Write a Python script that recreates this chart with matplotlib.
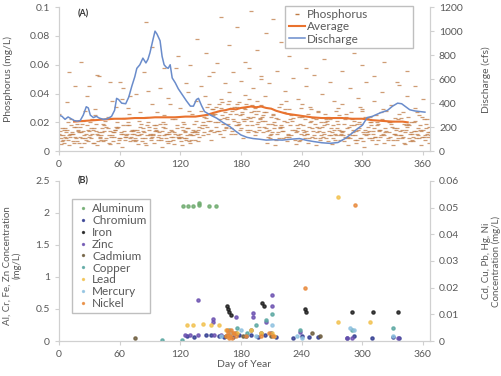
import numpy as np
import matplotlib.pyplot as plt

plt.rcParams['font.family'] = ['Lato', 'DejaVu Sans']
plt.rcParams['font.size'] = 7.5

# ---- panel A: phosphorus samples (ug/L), one list per year, every 4 days
p_days_a = np.arange(0, 368, 4)
p_days_b = np.arange(2, 368, 4)
p_days_c = np.arange(1, 368, 4)
p_days_d = np.arange(3, 368, 4)

p_yr1 = [12, 8, 15, 22, 10, 6, 14, 18, 9, 25, 13, 7, 16, 11, 31, 9, 14, 20, 12, 8, 17, 13, 42, 10, 15, 19, 11, 6, 14, 24, 12, 9, 16, 13, 21,
         28, 18, 33, 25, 14, 30, 27, 35, 22, 31, 16, 29, 36, 24, 19, 32,
         21, 15, 26, 12, 18, 29, 10, 23, 16, 33, 14, 20, 11, 27, 17, 9, 22, 15, 19,
         13, 24, 9, 18, 15, 28, 11, 20, 16, 8, 22, 14, 19, 12, 26, 10, 17, 13, 21, 9, 15, 12]
p_yr2 = [9, 16, 11, 7, 19, 13, 28, 10, 15, 12, 8, 21, 14, 10, 17, 36, 11, 9, 15, 13, 7, 24, 12, 18, 10, 14, 9, 33, 13, 11, 17, 8, 12, 19, 15,
         20, 31, 15, 26, 33, 19, 24, 12, 29, 34, 22, 18, 27, 30, 15, 25,
         14, 24, 18, 31, 9, 20, 25, 13, 19, 11, 26, 16, 22, 8, 18, 24, 13, 28, 11,
         19, 10, 22, 14, 31, 12, 17, 9, 25, 15, 11, 20, 8, 16, 23, 13, 18, 10, 27, 14, 11, 17]
p_yr3 = [14, 6, 20, 12, 9, 17, 11, 7, 22, 14, 10, 18, 6, 13, 20, 12, 8, 26, 14, 11, 19, 9, 15, 12, 27, 8, 16, 13, 10, 18, 7, 14, 28, 11, 13,
         16, 25, 21, 13, 28, 34, 17, 26, 31, 20, 27, 33, 23, 14, 28, 21,
         27, 11, 16, 22, 14, 35, 18, 8, 24, 15, 12, 29, 19, 14, 10, 21, 16, 12, 25,
         11, 16, 27, 8, 20, 13, 23, 18, 10, 14, 29, 9, 21, 15, 11, 19, 24, 8, 14, 18, 22, 10]
p_yr4 = [7, 13, 10, 17, 15, 9, 12, 20, 6, 11, 16, 9, 23, 15, 8, 12, 18, 10, 7, 21, 14, 11, 9, 16, 13, 20, 12, 10, 22, 9, 15, 11, 8, 14, 10,
         24, 12, 29, 31, 22, 15, 33, 28, 18, 25, 30, 13, 32, 26, 23, 17,
         10, 19, 23, 16, 27, 12, 21, 14, 30, 9, 17, 23, 13, 20, 26, 11, 18, 21, 14,
         22, 12, 15, 19, 9, 24, 14, 12, 20, 27, 13, 10, 16, 22, 9, 15, 12, 20, 11, 24, 16, 13]
p_yr5 = [26, 11, 34, 18, 45, 13, 21, 38, 16, 29, 52, 19, 24, 35, 17, 48, 23, 30, 15, 40, 27, 55, 20, 33, 18, 44, 25, 37, 22, 58, 30, 19, 41, 26, 35,
         45, 38, 52, 29, 61, 36, 47, 41, 55, 33, 49, 39, 58, 44, 35, 50,
         38, 47, 25, 56, 33, 42, 29, 51, 36, 24, 45, 31, 53, 28, 40, 22, 48, 35, 30,
         33, 26, 44, 21, 37, 29, 48, 24, 35, 19, 41, 28, 32, 23, 46, 27, 38, 20, 30, 25, 36, 22]
p_yr6 = [5, 10, 4, 12, 7, 3, 9, 14, 6, 4, 11, 8, 5, 13, 6, 3, 10, 7, 12, 5, 9, 4, 11, 6, 8, 3, 12, 7, 5, 10, 4, 9, 6, 13, 7,
         11, 17, 8, 20, 14, 10, 22, 16, 12, 19, 9, 15, 21, 11, 17, 13,
         6, 12, 4, 9, 14, 7, 11, 5, 8, 13, 6, 10, 4, 9, 12, 7, 5, 11, 8,
         7, 4, 11, 6, 9, 3, 12, 8, 5, 10, 6, 13, 4, 8, 11, 5, 9, 7, 12, 4, 8, 6]
p_yr7 = [11, 15, 8, 13, 17, 10, 6, 15, 12, 19, 9, 14, 11, 7, 16, 13, 10, 18, 8, 15, 12, 6, 17, 11, 14, 9, 19, 12, 8, 16, 10, 13, 7, 15, 12,
         18, 23, 14, 27, 20, 25, 16, 29, 21, 18, 26, 22, 15, 28, 20, 24,
         16, 9, 20, 13, 17, 10, 22, 15, 7, 18, 12, 21, 9, 16, 13, 19, 11, 8, 15,
         14, 9, 18, 11, 16, 7, 13, 20, 10, 15, 12, 8, 17, 11, 14, 6, 19, 12, 9, 15, 10, 13]
p_yr8 = [16, 9, 12, 6, 14, 19, 8, 11, 16, 7, 13, 17, 10, 15, 9, 18, 12, 14, 9, 11, 16, 18, 8, 14, 11, 17, 7, 15, 12, 9, 20, 16, 11, 8, 17,
         13, 21, 26, 17, 12, 23, 19, 14, 26, 15, 21, 24, 18, 13, 22, 27,
         19, 13, 8, 17, 21, 11, 15, 18, 12, 22, 9, 14, 17, 11, 20, 14, 9, 16, 12,
         10, 17, 13, 8, 19, 15, 9, 14, 18, 11, 16, 20, 12, 9, 15, 18, 7, 14, 16, 10, 19, 11]

p_out_days = [10, 22, 30, 38, 50, 63, 70, 86, 92, 104, 118, 126, 130, 137, 145, 152, 160, 168, 176, 184,
              190, 196, 200, 205, 212, 220, 228, 236, 244, 252, 258, 262, 270, 280, 292, 300, 312, 322, 334, 344, 352]
p_out_vals = [55, 62, 45, 53, 48, 44, 38, 90, 72, 58, 66, 47, 60, 78, 68, 55, 93, 74, 86, 62,
              97, 70, 52, 82, 92, 76, 66, 88, 58, 72, 99, 64, 80, 56, 68, 60, 52, 62, 48, 56, 45]

avg_days = [15, 25, 35, 45, 55, 65, 75, 85, 95, 105, 115, 125, 135, 145,
            150, 155, 160, 165, 170, 175, 180, 185, 190, 195, 200, 205, 210, 215, 220, 225, 230,
            240, 250, 260, 270, 280, 290, 300, 310, 320, 330, 340, 345]
avg_vals = [20.5, 21, 21.5, 22, 22.5, 22.5, 23, 23, 23.5, 23.5, 23.5, 24, 24, 25,
            26, 27, 28, 28.5, 29.5, 29, 30, 30.5, 31, 30.5, 31, 30, 29.5, 28, 27, 26, 25.5,
            24.5, 23.5, 23, 23, 23, 22.5, 22.5, 21.5, 21, 20.5, 20.5, 20]

q_days = [0, 3, 6, 9, 12, 15, 18, 21, 24, 27, 29, 31, 34, 37, 40, 44, 48, 52, 55, 57, 59, 62, 66, 69,
          72, 75, 77, 80, 83, 86, 88, 90, 93, 95, 97, 100, 102, 104, 106, 108, 110, 112, 115, 118,
          122, 126, 130, 133, 136, 138, 141, 144, 150, 156, 162, 169, 175, 180, 186, 192, 198, 205,
          212, 221, 230, 238, 245, 252, 260, 268, 276, 284, 290, 295, 300, 305, 310, 318, 325, 330,
          335, 339, 343, 347, 352, 357, 362]
q_cfs = [300, 290, 265, 285, 270, 255, 250, 255, 300, 370, 360, 300, 280, 290, 275, 265, 270, 290, 340, 440, 430, 400, 395, 450,
         540, 620, 690, 720, 775, 735, 765, 820, 930, 1000, 975, 920, 790, 720, 700, 690, 720, 610, 570, 520,
         470, 420, 375, 375, 430, 440, 380, 330, 300, 275, 240, 205, 165, 135, 115, 105, 100, 92,
         95, 92, 100, 105, 90, 80, 70, 65, 72, 110, 150, 185, 215, 280, 290, 320, 340, 375,
         400, 395, 370, 345, 335, 330, 325]

# ---- panel B: metals, left axis (mg/L)
al_days = [123, 128, 133, 139, 139, 148, 155]
al_vals = [2.1, 2.1, 2.1, 2.12, 2.16, 2.1, 2.1]
cr_days = [127, 134, 145, 150, 158, 163, 168, 172, 178, 185, 190, 197, 204, 210, 215, 232, 240, 247, 256, 285, 292, 310, 330, 336]
cr_vals = [0.08, 0.07, 0.09, 0.1, 0.08, 0.06, 0.1, 0.07, 0.09, 0.08, 0.1, 0.06, 0.09, 0.12, 0.07, 0.05, 0.08, 0.06, 0.07, 0.05, 0.08, 0.04, 0.06, 0.05]
fe_days = [166, 167, 168, 170, 201, 203, 243, 244, 290, 311, 335]
fe_vals = [0.55, 0.5, 0.45, 0.4, 0.6, 0.55, 0.5, 0.45, 0.45, 0.45, 0.45]
zn_days = [125, 130, 138, 138, 152, 152, 153, 160, 175, 192, 192, 205, 211, 211, 238, 285, 290, 335]
zn_vals = [0.1, 0.1, 0.1, 0.64, 0.35, 0.3, 0.1, 0.1, 0.38, 0.43, 0.37, 0.3, 0.72, 0.55, 0.14, 0.05, 0.05, 0.05]

# right axis (mg/L)
cd_days = [75, 165, 175, 182, 190, 200, 210, 250, 258]
cd_vals = [0.001, 0.002, 0.003, 0.002, 0.004, 0.003, 0.002, 0.003, 0.002]
cu_days = [102, 122, 168, 176, 186, 195, 205, 211, 238, 290, 330]
cu_vals = [0.0005, 0.0005, 0.004, 0.005, 0.003, 0.006, 0.008, 0.01, 0.004, 0.004, 0.005]
pb_days = [127, 133, 142, 150, 158, 165, 168, 170, 176, 190, 200, 211, 213, 276, 276, 308]
pb_vals = [0.006, 0.006, 0.0065, 0.006, 0.006, 0.004, 0.002, 0.003, 0.003, 0.004, 0.003, 0.003, 0.002, 0.054, 0.007, 0.007]
hg_days = [160, 170, 180, 195, 211, 235, 240, 288, 292, 330]
hg_vals = [0.002, 0.003, 0.004, 0.002, 0.006, 0.002, 0.001, 0.005, 0.004, 0.002]
ni_days = [165, 166, 167, 168, 169, 170, 171, 172, 173, 175, 185, 200, 208, 212, 243, 293]
ni_vals = [0.002, 0.004, 0.003, 0.001, 0.002, 0.004, 0.001, 0.003, 0.003, 0.002, 0.002, 0.002, 0.003, 0.002, 0.02, 0.051]

metals_left = [('Aluminum', al_days, al_vals, '#6DAA6D'),
               ('Chromium', cr_days, cr_vals, '#2F3A8F'),
               ('Iron', fe_days, fe_vals, '#1A1A1A'),
               ('Zinc', zn_days, zn_vals, '#6A4FB0')]
metals_right = [('Cadmium', cd_days, cd_vals, '#6B5A3A'),
                ('Copper', cu_days, cu_vals, '#58A6A0'),
                ('Lead', pb_days, pb_vals, '#F2C14E'),
                ('Mercury', hg_days, hg_vals, '#8EC1E0'),
                ('Nickel', ni_days, ni_vals, '#E8893A')]

x_ticks = [0, 60, 120, 180, 240, 300, 360]
txt = '#595959'
edge = '#D0D0D0'


def style(ax):
    for s in ['left', 'right', 'bottom']:
        ax.spines[s].set_color(edge)
    ax.spines['top'].set_visible(False)
    ax.tick_params(colors=edge, labelcolor=txt, length=3, width=0.8, labelsize=7.5)


fig = plt.figure(figsize=(5.02, 3.76), dpi=100)

# ---------------- panel A
axA = fig.add_axes([0.1175, 0.598, 0.739, 0.383])
axA2 = axA.twinx()
c_ph = '#BF7B45'
phos = [(p_days_a, p_yr1), (p_days_b, p_yr2), (p_days_c, p_yr3), (p_days_d, p_yr4),
        (p_days_a, p_yr5), (p_days_b, p_yr6), (p_days_c, p_yr7), (p_days_d, p_yr8),
        (p_out_days, p_out_vals)]
for days, vals in phos:
    axA.plot(days, np.array(vals) / 1000, ls='none', marker='_', ms=2.5, mew=0.9, color=c_ph, alpha=0.75)
axA.plot(avg_days, np.array(avg_vals) / 1000, color='#E9722E', lw=1.5)
axA2.plot(q_days, q_cfs, color='#6A8CCB', lw=1.1)

axA.set_xlim(0, 367)
axA.set_ylim(0, 0.1)
axA2.set_ylim(0, 1200)
axA.set_xticks(x_ticks)
axA.set_yticks([0, 0.02, 0.04, 0.06, 0.08, 0.1])
axA.set_yticklabels(['0', '0.02', '0.04', '0.06', '0.08', '0.1'])
axA2.set_yticks(range(0, 1201, 200))
for a in (axA, axA2):
    style(a)
axA.set_ylabel('Phosphorus (mg/L)', color=txt, fontsize=7.5)
axA.yaxis.set_label_coords(-0.125, 0.5)
axA2.set_ylabel('Discharge (cfs)', color=txt, fontsize=7.5)
axA2.yaxis.set_label_coords(1.14, 0.5)
axA.text(0.05, 0.95, '(A)', transform=axA.transAxes, fontsize=6.5, fontweight='bold', color='#333333', va='center')

hA = [plt.Line2D([], [], ls='none', marker='_', ms=3, color=c_ph),
      plt.Line2D([], [], color='#E9722E', lw=1.5),
      plt.Line2D([], [], color='#6A8CCB', lw=1.1)]
legA = axA2.legend(hA, ['Phosphorus', 'Average', 'Discharge'], loc='upper left',
                   bbox_to_anchor=(0.61, 0.615, 0.345, 0.395), mode='expand', fontsize=8.5,
                   handlelength=1.4, handletextpad=0.1, labelspacing=0.1, borderpad=0.3,
                   borderaxespad=0, fancybox=False, framealpha=1, edgecolor='#BFBFBF')
for t in legA.get_texts():
    t.set_color(txt)

# ---------------- panel B
axB = fig.add_axes([0.1175, 0.093, 0.739, 0.426])
axB2 = axB.twinx()
handles = []
for name, d, v, c in metals_left:
    h, = axB.plot(d, v, ls='none', marker='o', ms=2.3, color=c, alpha=0.8, label=name)
    handles.append(h)
for name, d, v, c in metals_right:
    h, = axB2.plot(d, v, ls='none', marker='o', ms=2.3, color=c, alpha=0.8, label=name)
    handles.append(h)

axB.set_xlim(0, 367)
axB.set_ylim(0, 2.5)
axB2.set_ylim(0, 0.06)
axB.set_xticks(x_ticks)
axB.set_yticks([0, 0.5, 1, 1.5, 2, 2.5])
axB.set_yticklabels(['0', '0.5', '1', '1.5', '2', '2.5'])
axB2.set_yticks([0, 0.01, 0.02, 0.03, 0.04, 0.05, 0.06])
axB2.set_yticklabels(['0', '0.01', '0.02', '0.03', '0.04', '0.05', '0.06'])
for a in (axB, axB2):
    style(a)
axB.set_ylabel('Al, Cr, Fe, Zn Concentration\n(mg/L)', color=txt, fontsize=7, linespacing=1.05)
axB.yaxis.set_label_coords(-0.1, 0.47)
axB2.set_ylabel('Cd, Cu, Pb, Hg, Ni\nConcentration (mg/L)', color=txt, fontsize=7, linespacing=1.05)
axB2.yaxis.set_label_coords(1.14, 0.5)
axB.set_xlabel('Day of Year', color=txt, fontsize=7.5, labelpad=1)
axB.text(0.05, 1.0, '(B)', transform=axB.transAxes, fontsize=6.5, fontweight='bold', color='#333333', va='center')

legB = axB2.legend(handles, [h.get_label() for h in handles], loc='upper left',
                   bbox_to_anchor=(0.035, 0.885), fontsize=8.5, markerscale=0.6, handlelength=1.2,
                   handletextpad=0.2, labelspacing=0.08, borderpad=0.3, borderaxespad=0,
                   fancybox=False, framealpha=1, edgecolor='#BFBFBF')
for t in legB.get_texts():
    t.set_color(txt)

fig.savefig('out.png', dpi=100)
